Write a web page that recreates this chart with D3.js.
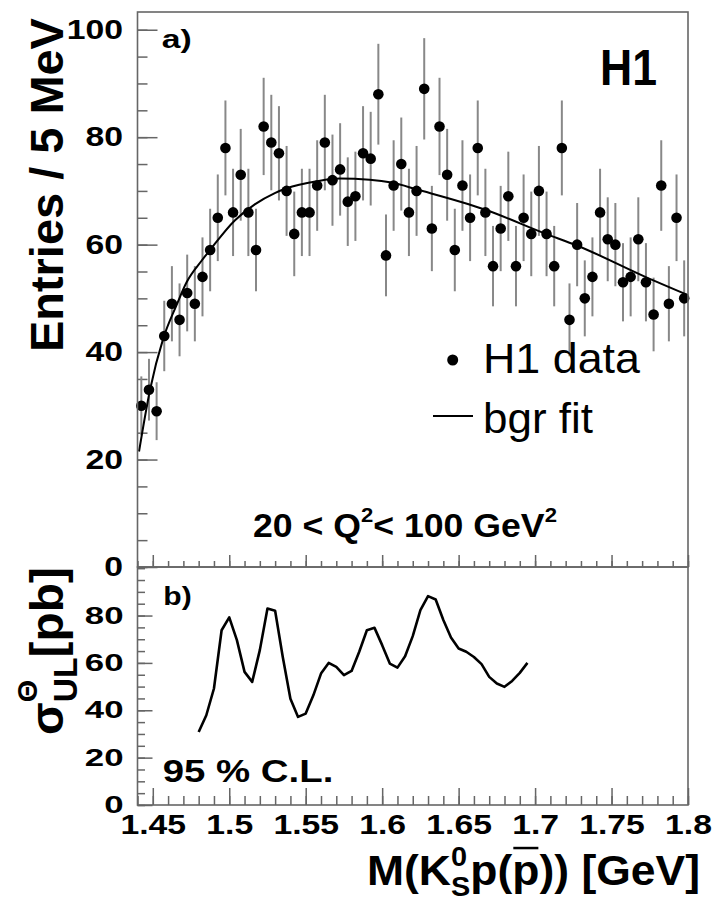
<!DOCTYPE html>
<html>
<head>
<meta charset="utf-8">
<script src="https://cdn.jsdelivr.net/npm/d3@7"></script>
<style>
  body { margin: 0; background: #fff; }
  text { font-family: "Liberation Sans", Arial, Helvetica, sans-serif; }
</style>
</head>
<body>
<div id="chart"></div>
<script>
// ---- data ----
// panel a) : histogram of M(K0s p) in 5 MeV bins
const massBins = [
  1.4425,1.4475,1.4525,1.4575,1.4625,1.4675,1.4725,1.4775,1.4825,1.4875,
  1.4925,1.4975,1.5025,1.5075,1.5125,1.5175,1.5225,1.5275,1.5325,1.5375,
  1.5425,1.5475,1.5525,1.5575,1.5625,1.5675,1.5725,1.5775,1.5825,1.5875,
  1.5925,1.5975,1.6025,1.6075,1.6125,1.6175,1.6225,1.6275,1.6325,1.6375,
  1.6425,1.6475,1.6525,1.6575,1.6625,1.6675,1.6725,1.6775,1.6825,1.6875,
  1.6925,1.6975,1.7025,1.7075,1.7125,1.7175,1.7225,1.7275,1.7325,1.7375,
  1.7425,1.7475,1.7525,1.7575,1.7625,1.7675,1.7725,1.7775,1.7825,1.7875,
  1.7925,1.7975];
const entries = [
  30,33,29,43,49,46,51,49,54,59,
  65,78,66,73,66,59,82,79,77,70,
  62,66,66,71,79,72,74,68,69,77,
  76,88,58,71,75,66,70,89,63,82,
  73,59,71,65,78,66,56,63,69,56,
  65,62,70,62,56,78,46,60,50,54,
  66,61,60,53,54,61,53,47,71,49,
  65,50];

// background fit curve
const fitMass  = [1.4410,1.4482,1.4569,1.4656,1.4721,1.4819,1.4874,1.5036,1.5167,1.5298,1.5375,
                  1.5572,1.5722,1.5918,1.6071,1.6224,1.6676,1.7062,1.7277,1.7721,1.8000];
const fitValue = [21.5,33.0,42.6,48.8,53.0,57.0,59.0,64.5,67.5,69.6,70.5,
                  71.8,72.3,72.1,71.5,70.3,66.5,62.1,59.8,54.0,50.6];

// panel b) : 95% CL upper limit on the cross section
const ulMass = [
  1.480,1.485,1.490,1.495,1.500,1.505,1.510,1.515,1.520,1.525,1.530,
  1.535,1.540,1.545,1.550,1.555,1.560,1.565,1.570,1.575,1.580,1.585,
  1.590,1.595,1.600,1.605,1.610,1.615,1.620,1.625,1.630,1.635,1.640,
  1.645,1.650,1.655,1.660,1.665,1.670,1.675,1.680,1.685,1.690,1.695];
const ulLimit = [
  30.8,37.9,49.2,73.8,79.2,69.6,56.2,52.0,65.4,83.0,82.0,
  62.5,44.9,37.2,38.6,46.3,55.5,60.0,58.3,54.8,56.6,64.7,
  73.8,74.8,67.5,59.7,58.0,62.8,71.3,82.3,88.2,86.8,78.1,
  70.7,66.1,64.7,62.5,59.5,54.1,51.3,49.9,52.4,55.8,60.0];

const xTickLabels = [1.45,1.5,1.55,1.6,1.65,1.7,1.75,1.8];
const yTopTickLabels = [0,20,40,60,80,100];
const yBotTickLabels = [0,20,40,60,80];

// ---- layout ----
const W = 715, H = 911;
const frameCol = "#666";

const svg = d3.select("#chart").append("svg")
  .attr("width", W)
  .attr("height", H);

const x    = d3.scaleLinear().domain([1.44, 1.8]).range([137.5, 688]);
const yTop = d3.scaleLinear().domain([0, 103.3]).range([567, 12]);
const yBot = d3.scaleLinear().domain([0, 100.5]).range([805, 567]);

// tick helper: ticks point into the frame, labels outside
function tickAxis(g, axisFn, scale, values, len, fmt) {
  g.call(axisFn(scale)
    .tickValues(values)
    .tickSizeInner(-len)
    .tickSizeOuter(0)
    .tickPadding(0)
    .tickFormat(fmt || (() => "")));
  g.select(".domain").remove();
  g.selectAll(".tick line").attr("stroke", frameCol).attr("stroke-width", 1.5);
  return g;
}

// lay out a line of text made of pieces (sub/superscripts), returns group + width
function rich(parent, segs, size, weight) {
  const g = parent.append("g");
  let xpos = 0, lastStart = 0;
  segs.forEach(s => {
    const start = s.stack ? lastStart : xpos;
    const t = g.append("text")
      .attr("x", start)
      .attr("y", (s.dy || 0) * size)
      .attr("font-size", size * (s.scale || 1))
      .attr("font-weight", weight)
      .attr("fill", "#000")
      .text(s.t);
    s.x0 = start;
    s.w = t.node().getComputedTextLength();
    if (!s.stack) lastStart = start;
    xpos = Math.max(xpos, start + s.w);
  });
  return { g: g, width: xpos };
}

function label(segs, size, weight, x0, y0, width, sy) {
  const r = rich(svg, segs, size, weight);
  r.g.attr("transform", `translate(${x0},${y0}) scale(${width / r.width},${sy || 1})`);
  return r;
}

function labelRot(segs, size, weight, x0, y0, len, sy) {
  const r = rich(svg, segs, size, weight);
  r.g.attr("transform", `translate(${x0},${y0}) rotate(-90) scale(${len / r.width},${sy || 1})`);
  return r;
}

const minorX = d3.range(144, 181).map(v => v / 100);
const minorY = d3.range(0, 101, 5);

// ================= panel a =================
const pa = svg.append("g");

tickAxis(pa.append("g").attr("transform", "translate(137.5,0)"), d3.axisLeft, yTop, minorY, 10);
const yTopAx = tickAxis(pa.append("g").attr("transform", "translate(137.5,0)"),
  d3.axisLeft, yTop, yTopTickLabels, 20, d3.format("d"));
tickAxis(pa.append("g").attr("transform", "translate(0,567)"), d3.axisBottom, x, minorX, 6);
tickAxis(pa.append("g").attr("transform", "translate(0,567)"), d3.axisBottom, x, xTickLabels, 12);

yTopAx.selectAll(".tick text")
  .attr("font-size", 27).attr("font-weight", "bold").attr("fill", "#000")
  .attr("x", -14.5 / 1.25)
  .attr("transform", "scale(1.25,1)");

// error bars
pa.append("g").selectAll("line")
  .data(entries)
  .join("line")
  .attr("x1", (d, i) => x(massBins[i]))
  .attr("x2", (d, i) => x(massBins[i]))
  .attr("y1", d => yTop(d - Math.sqrt(d)))
  .attr("y2", d => yTop(d + Math.sqrt(d)))
  .attr("stroke", "#888")
  .attr("stroke-width", 2);

// background fit
const fitLine = d3.line()
  .x((d, i) => x(fitMass[i]))
  .y(d => yTop(d))
  .curve(d3.curveMonotoneX);
pa.append("path")
  .attr("d", fitLine(fitValue))
  .attr("fill", "none")
  .attr("stroke", "#000")
  .attr("stroke-width", 2);

// data points
pa.append("g").selectAll("circle")
  .data(entries)
  .join("circle")
  .attr("cx", (d, i) => x(massBins[i]))
  .attr("cy", d => yTop(d))
  .attr("r", 5.3)
  .attr("fill", "#000");

pa.append("rect")
  .attr("x", 137.5).attr("y", 12)
  .attr("width", 550.5).attr("height", 555)
  .attr("fill", "none").attr("stroke", frameCol).attr("stroke-width", 1.6);

// legend
pa.append("circle").attr("cx", 452.7).attr("cy", 360).attr("r", 5.5).attr("fill", "#000");
pa.append("line").attr("x1", 433).attr("x2", 473).attr("y1", 416).attr("y2", 416)
  .attr("stroke", "#000").attr("stroke-width", 2);
label([{ t: "H1 data" }], 42, "normal", 483, 373, 157);
label([{ t: "bgr fit" }], 42, "normal", 483, 433, 110);

label([{ t: "a)" }], 26, "bold", 161.7, 48, 30);
label([{ t: "H1" }], 50, "bold", 600, 85, 57);
label([{ t: "20 < Q" }, { t: "2", scale: 0.62, dy: -0.45 }, { t: " < 100 GeV" }, { t: "2", scale: 0.62, dy: -0.45 }],
  33, "bold", 253, 537, 304);

labelRot([{ t: "Entries / 5 MeV" }], 44, "bold", 63, 352, 334, 1.05);

// ================= panel b =================
const pb = svg.append("g");

tickAxis(pb.append("g").attr("transform", "translate(137.5,0)"), d3.axisLeft, yBot, minorY, 7.5);
const yBotAx = tickAxis(pb.append("g").attr("transform", "translate(137.5,0)"),
  d3.axisLeft, yBot, yBotTickLabels, 15, d3.format("d"));
tickAxis(pb.append("g").attr("transform", "translate(0,805)"), d3.axisBottom, x, minorX, 9);
const xAx = tickAxis(pb.append("g").attr("transform", "translate(0,805)"),
  d3.axisBottom, x, xTickLabels, 17, d => String(+d.toFixed(2)));

yBotAx.selectAll(".tick text")
  .attr("font-size", 24).attr("font-weight", "bold").attr("fill", "#000")
  .attr("x", -14 / 1.45)
  .attr("transform", "scale(1.45,1)");

xAx.selectAll(".tick text")
  .attr("font-size", 27).attr("font-weight", "bold").attr("fill", "#000")
  .attr("y", 10)
  .attr("transform", "scale(1.25,1)");

const ulLine = d3.line()
  .x((d, i) => x(ulMass[i]))
  .y(d => yBot(d));
pb.append("path")
  .attr("d", ulLine(ulLimit))
  .attr("fill", "none")
  .attr("stroke", "#000")
  .attr("stroke-width", 2.6)
  .attr("stroke-linejoin", "round");

pb.append("rect")
  .attr("x", 137.5).attr("y", 567)
  .attr("width", 550.5).attr("height", 238)
  .attr("fill", "none").attr("stroke", frameCol).attr("stroke-width", 1.6);

label([{ t: "b)" }], 25, "bold", 163.3, 605, 28.4);
label([{ t: "95 % C.L." }], 32, "bold", 162.7, 781.7, 170.7);

labelRot([{ t: "σ" }, { t: "UL", scale: 0.7, dy: 0.3 }, { t: "Θ", scale: 0.6, dy: -0.55, stack: true }, { t: " [pb]" }],
  36, "bold", 63, 735, 168, 1.3);

// x axis title with overline on the antiproton
const xSegs = [{ t: "M(K" }, { t: "0", scale: 0.65, dy: -0.45 }, { t: "S", scale: 0.65, dy: 0.25, stack: true },
               { t: "p(" }, { t: "p" }, { t: ")) [GeV]" }];
const xt = label(xSegs, 42, "bold", 367, 885, 333);
xt.g.append("line")
  .attr("x1", xSegs[4].x0 + 1).attr("x2", xSegs[4].x0 + xSegs[4].w - 1)
  .attr("y1", -0.88 * 42).attr("y2", -0.88 * 42)
  .attr("stroke", "#000").attr("stroke-width", 2.5);
</script>
</body>
</html>
